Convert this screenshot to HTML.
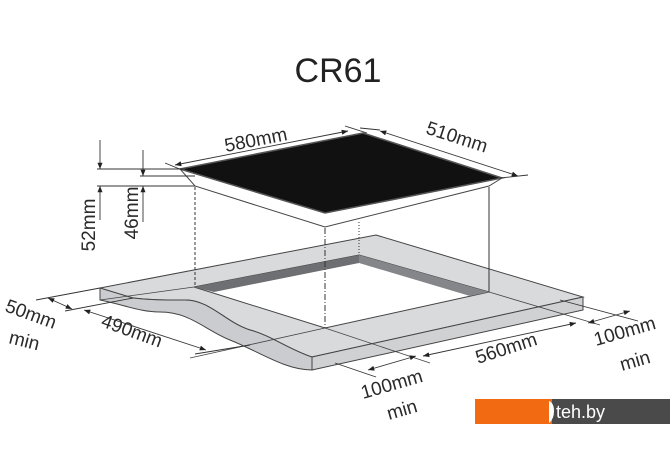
<!DOCTYPE html>
<html><head><style>
html,body{margin:0;padding:0;background:#fff;}
svg{display:block;font-family:"Liberation Sans",sans-serif;}
text{fill:#2a2a2a;}
</style></head><body>
<svg width="670" height="471" viewBox="0 0 670 471" xmlns="http://www.w3.org/2000/svg">
<defs>
<marker id="a" viewBox="0 0 10 10" refX="10" refY="5" markerWidth="7" markerHeight="7" orient="auto-start-reverse"><path d="M0,1 L10,5 L0,9 z" fill="#222"/></marker>
</defs>
<text x="338" y="82" font-size="34" text-anchor="middle" style="fill:#222">CR61</text>

<!-- countertop -->
<path d="M100,288 L376,235 L583,297 L312,357 C290,350 270,335 250,330 C225,322 210,300 185,300 C160,300 150,300 133,298 Z" fill="#d9dadc" stroke="#444" stroke-width="1"/>
<path d="M100,288 L100,300 C125,305 140,312 160,312 C190,312 205,330 230,340 C260,352 285,370 312,370 L312,357 C290,350 270,335 250,330 C225,322 210,300 185,300 C160,300 150,300 133,298 Z" fill="#cbcccf" stroke="#444" stroke-width="1"/>
<path d="M312,357 L583,297 L583,310 L312,370 Z" fill="#d0d1d3" stroke="#444" stroke-width="1"/>
<!-- opening -->
<path d="M194,287 L359,255 L489,292 L325,328 Z" fill="#fff" stroke="#444" stroke-width="1"/>
<path d="M194,287 L359,255 L359,263 L214,292 Z" fill="#6e6f72"/>
<path d="M359,255 L489,292 L470,296 L359,263 Z" fill="#85868a"/>
<line x1="100" y1="300" x2="194" y2="287" stroke="#444" stroke-width="0.8"/>
<line x1="325" y1="328" x2="430" y2="363" stroke="#444" stroke-width="0.8"/>
<line x1="325" y1="328" x2="190" y2="358" stroke="#444" stroke-width="0.8"/>
<line x1="489" y1="292" x2="600" y2="325" stroke="#444" stroke-width="0.8"/>

<!-- cooktop body -->
<path d="M180,169 L325,213 L502,178 L489,186 L325,227 L195,186 Z" fill="#fff" stroke="#444" stroke-width="1"/>
<path d="M180,169 L363,133 L502,178 L325,213 Z" fill="#111" stroke="#555" stroke-width="1.5"/>
<!-- dashed verticals -->
<g stroke="#333" stroke-width="1" fill="none">
<line x1="195" y1="187" x2="195" y2="287" stroke-dasharray="3,2"/>
<line x1="489" y1="187" x2="489" y2="292"/>
<line x1="325" y1="228" x2="325" y2="328" stroke-dasharray="6,2,1,2"/>
<line x1="359" y1="222" x2="359" y2="255" stroke-dasharray="1,2"/>
</g>

<!-- dims -->
<g stroke="#333" stroke-width="0.9" fill="none">
<line x1="165" y1="163" x2="182" y2="170"/>
<line x1="345" y1="126" x2="367" y2="133"/>
<line x1="175" y1="165" x2="348" y2="131" marker-start="url(#a)" marker-end="url(#a)"/>
<line x1="360" y1="128" x2="380" y2="130"/>
<line x1="500" y1="178" x2="528" y2="175"/>
<line x1="380" y1="131" x2="518" y2="176" marker-start="url(#a)" marker-end="url(#a)"/>
<line x1="97" y1="169" x2="185" y2="169"/>
<line x1="97" y1="186" x2="195" y2="186"/>
<line x1="140" y1="176" x2="195" y2="176"/>
<line x1="100" y1="140" x2="100" y2="169" marker-end="url(#a)"/>
<line x1="100" y1="186" x2="100" y2="220" marker-start="url(#a)"/>
<line x1="143" y1="150" x2="143" y2="176" marker-end="url(#a)"/>
<line x1="143" y1="186" x2="143" y2="222" marker-start="url(#a)"/>
<line x1="36" y1="300" x2="100" y2="288"/>
<line x1="65" y1="311" x2="133" y2="298"/>
<line x1="48" y1="298" x2="72" y2="309" marker-start="url(#a)" marker-end="url(#a)"/>
<line x1="84" y1="310" x2="206" y2="350" marker-start="url(#a)" marker-end="url(#a)"/>
<line x1="195" y1="354" x2="250" y2="345"/>
<line x1="335" y1="363" x2="376" y2="377"/>
<line x1="368" y1="370" x2="416" y2="356" marker-start="url(#a)" marker-end="url(#a)"/>
<line x1="423" y1="356" x2="576" y2="323" marker-start="url(#a)" marker-end="url(#a)"/>
<line x1="560" y1="300" x2="638" y2="321"/>
<line x1="588" y1="323" x2="630" y2="311" marker-start="url(#a)" marker-end="url(#a)"/>
</g>

<g font-size="19">
<text transform="translate(257,146) rotate(-11)" text-anchor="middle">580mm</text>
<text transform="translate(455,143) rotate(18)" text-anchor="middle">510mm</text>
<text transform="translate(95,225) rotate(-90)" text-anchor="middle">52mm</text>
<text transform="translate(138,213) rotate(-90)" text-anchor="middle">46mm</text>
<text transform="translate(4,311) rotate(20)">50mm</text>
<text transform="translate(8,343) rotate(14)">min</text>
<text transform="translate(100,326) rotate(20)">490mm</text>
<text transform="translate(478,364) rotate(-18)">560mm</text>
<text transform="translate(596,346) rotate(-16)">100mm</text>
<text transform="translate(622,371) rotate(-16)">min</text>
<text transform="translate(363,399) rotate(-16)">100mm</text>
<text transform="translate(389,420) rotate(-16)">min</text>
</g>

<rect x="475" y="399" width="77" height="25" fill="#f26a12"/>
<rect x="552" y="399" width="118" height="25" fill="#4a4a4a"/>
<path d="M549,401 q5,2 5,10 q0,8 -5,12 z" fill="#fff"/>
<text x="556" y="418" font-size="18" style="fill:#fff">teh.by</text>
</svg>
</body></html>
